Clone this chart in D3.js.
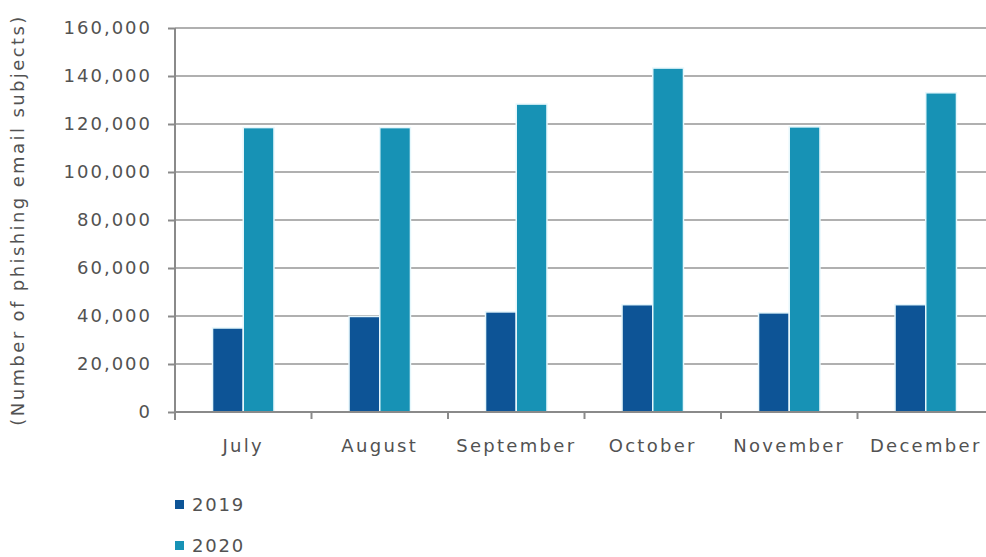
<!DOCTYPE html>
<html>
<head>
<meta charset="utf-8">
<script src="https://cdn.jsdelivr.net/npm/d3@7"></script>
<style>
  body { margin: 0; background: #fff; }
  text { font-family: "DejaVu Sans", Verdana, sans-serif; fill: #525252; }
</style>
</head>
<body>
<svg class="chart"></svg>
<script>
// data
var months = ["July", "August", "September", "October", "November", "December"];
var years = ["2019", "2020"];
var v2019 = [35000, 39800, 41700, 44700, 41300, 44700];
var v2020 = [118500, 118500, 128300, 143300, 118800, 133000];
var yTicks = [0, 20000, 40000, 60000, 80000, 100000, 120000, 140000, 160000];
var colors = ["#0d5496", "#1792b5"];

var W = 986, H = 557;
var margin = {top: 28, right: 0, bottom: 145, left: 175};

var svg = d3.select("svg.chart")
  .attr("width", W)
  .attr("height", H);

var x0 = d3.scaleBand()
  .domain(months)
  .range([margin.left, 994])
  .padding(0);

var x1 = d3.scaleBand()
  .domain(years)
  .range([x0.bandwidth() * 0.275, x0.bandwidth() * 0.725])
  .padding(0);

var y = d3.scaleLinear()
  .domain([0, 160000])
  .range([H - margin.bottom, margin.top]);

// gridlines
svg.append("g")
  .selectAll("line")
  .data(yTicks.slice(1))
  .enter().append("line")
    .attr("x1", margin.left)
    .attr("x2", W)
    .attr("y1", function(d) { return y(d); })
    .attr("y2", function(d) { return y(d); })
    .attr("stroke", "#b0b0b0")
    .attr("stroke-width", 2);

// bars
var rows = months.map(function(m, i) { return {month: m, vals: [v2019[i], v2020[i]]}; });
svg.append("g")
  .selectAll("g")
  .data(rows)
  .enter().append("g")
    .attr("transform", function(d) { return "translate(" + x0(d.month) + ",0)"; })
  .selectAll("rect")
  .data(function(d) { return d.vals.map(function(v, k) { return {year: years[k], v: v, k: k}; }); })
  .enter().append("rect")
    .attr("x", function(d) { return x1(d.year); })
    .attr("width", x1.bandwidth())
    .attr("y", function(d) { return y(d.v); })
    .attr("height", function(d) { return y(0) - y(d.v); })
    .attr("fill", function(d) { return colors[d.k]; })
    .attr("stroke", "#e6f7fc")
    .attr("stroke-width", 1.5);

// y axis
var yAxis = svg.append("g")
  .attr("transform", "translate(" + margin.left + ",0)")
  .call(d3.axisLeft(y).tickValues(yTicks).tickSize(7).tickPadding(16)
    .tickFormat(d3.format(",")));
yAxis.select(".domain").attr("stroke", "#8a8a8a").attr("stroke-width", 2)
  .attr("d", "M0," + (y(0) + 8) + "V" + y(160000));
yAxis.selectAll(".tick line").attr("stroke", "#8a8a8a").attr("stroke-width", 2);
yAxis.selectAll(".tick text")
  .style("font-family", "DejaVu Sans, sans-serif")
  .style("font-size", "18px")
  .style("letter-spacing", "2px")
  .attr("fill", "#525252");

// x axis
var xAxis = svg.append("g")
  .attr("transform", "translate(0," + y(0) + ")")
  .call(d3.axisBottom(x0).tickSize(0).tickPadding(27));
xAxis.select(".domain").attr("stroke", "#8a8a8a").attr("stroke-width", 2)
  .attr("d", "M" + margin.left + ",0H" + W);
xAxis.selectAll(".tick text")
  .style("font-family", "DejaVu Sans, sans-serif")
  .style("font-size", "18px")
  .style("letter-spacing", "2.3px")
  .attr("fill", "#525252");
// boundary ticks between months
xAxis.selectAll(".sep")
  .data(months.slice(1))
  .enter().append("line")
    .attr("class", "sep")
    .attr("x1", function(d) { return x0(d); })
    .attr("x2", function(d) { return x0(d); })
    .attr("y1", 0)
    .attr("y2", 7)
    .attr("stroke", "#8a8a8a")
    .attr("stroke-width", 2);

// y axis title
svg.append("text")
  .attr("transform", "translate(24," + (y(0) + y(160000)) / 2 + ") rotate(-90)")
  .attr("text-anchor", "middle")
  .style("font-size", "18px")
  .style("letter-spacing", "2.4px")
  .text("(Number of phishing email subjects)");

// legend
var legend = svg.append("g")
  .selectAll("g")
  .data(years)
  .enter().append("g")
    .attr("transform", function(d, i) { return "translate(175," + (505 + i * 41) + ")"; });
legend.append("rect")
  .attr("x", 0)
  .attr("y", -5)
  .attr("width", 9)
  .attr("height", 9)
  .attr("fill", function(d, i) { return colors[i]; });
legend.append("text")
  .attr("x", 17)
  .attr("dy", "0.35em")
  .style("font-size", "18px")
  .style("letter-spacing", "1.8px")
  .text(function(d) { return d; });
</script>
</body>
</html>
